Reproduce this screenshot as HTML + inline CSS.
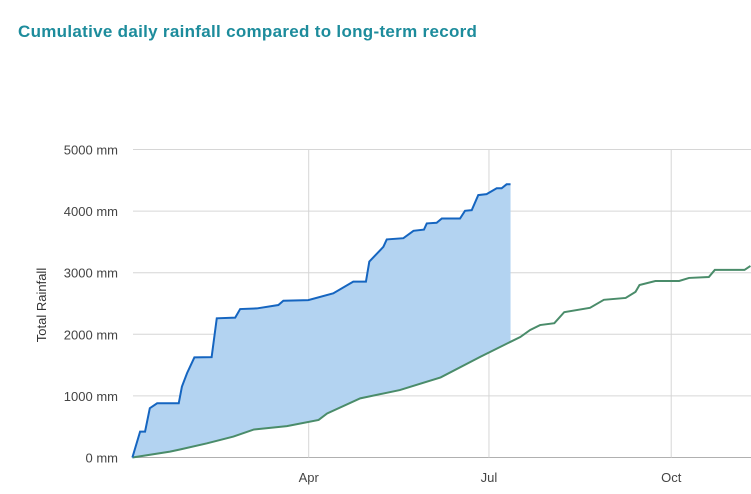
<!DOCTYPE html>
<html><head><meta charset="utf-8"><style>
body{margin:0;background:#fff;font-family:"Liberation Sans",sans-serif;}
#t{position:absolute;left:18px;top:22px;font-size:17px;font-weight:bold;color:#1d8c9c;letter-spacing:0.3px;}
</style></head><body>
<div id="t">Cumulative daily rainfall compared to long-term record</div>
<svg id="c" width="751" height="494" style="position:absolute;left:0;top:0"></svg>
<script>
const yTicks=[0,1000,2000,3000,4000,5000];
const monthLabels=["Apr","Jul","Oct"];
const monthDays=[90,181,273];
const blueDays=[1,4.9,7.4,9.8,13.5,24.4,26,28.6,32.3,41,43.6,52.9,55.4,63.8,74.7,77.2,89.8,102.4,112.5,118.9,120.6,127.7,129.4,137.8,142.9,148.2,149.6,154.6,157.2,166.4,168.9,172.3,175.6,179.8,184.9,187.4,189.9,191.9];
const blueVals=[0,420,420,800,880,880,1150,1370,1625,1630,2260,2270,2410,2420,2475,2545,2555,2665,2855,2855,3180,3420,3540,3560,3680,3700,3800,3810,3880,3880,4005,4015,4260,4275,4370,4370,4435,4435];
const greenDays=[1,20,25,38.7,52,62.4,79,95,99.3,116,136,156.6,176.7,192,196.8,201.8,206.8,214,219,232,239,250,255,257,265,277,282,292,295,310,313];
const greenVals=[0,95,130,230,340,455,510,610,715,960,1095,1300,1635,1880,1955,2070,2150,2180,2360,2430,2560,2590,2690,2800,2865,2865,2915,2930,3045,3045,3110];
const svg=document.getElementById('c');const NS='http://www.w3.org/2000/svg';
const X=d=>130.4+d*1.981, Y=v=>457.5-v*0.0616;
function mk(t,a,p){const e=document.createElementNS(NS,t);for(const k in a)e.setAttribute(k,a[k]);(p||svg).appendChild(e);return e;}
yTicks.forEach(v=>{
 const l=mk('line',{x1:133,x2:751,y1:Y(v),y2:Y(v),stroke:v?'#d6d6d6':'#b0b0b0','stroke-width':1});
 
 
 const t=mk('text',{x:118,y:Y(v)+5,'text-anchor':'end','font-size':13,fill:'#444','font-family':'Liberation Sans, sans-serif'});
 t.textContent=v+' mm';
 
 
});
monthDays.forEach((d,i)=>{
 const l=mk('line',{x1:X(d),x2:X(d),y1:149.5,y2:457.5,stroke:'#d6d6d6'});
 
 
 const t=mk('text',{x:X(d),y:482,'text-anchor':'middle','font-size':13,fill:'#444','font-family':'Liberation Sans, sans-serif'});
 t.textContent=monthLabels[i];
 
 
});
const yt=mk('text',{x:0,y:0,transform:'translate(46,305) rotate(-90)','text-anchor':'middle','font-size':13,fill:'#333','font-family':'Liberation Sans, sans-serif'});
yt.textContent='Total Rainfall';


function gAt(d){for(let i=1;i<greenDays.length;i++){if(greenDays[i]>=d){const f=(d-greenDays[i-1])/(greenDays[i]-greenDays[i-1]);return greenVals[i-1]+f*(greenVals[i]-greenVals[i-1]);}}return greenVals[greenVals.length-1];}
const lastB=blueDays[blueDays.length-1];
let pts=blueDays.map((d,i)=>X(d)+','+Y(blueVals[i]));
pts.push(X(lastB)+','+Y(gAt(lastB)));
for(let i=greenDays.length-1;i>=0;i--)if(greenDays[i]<lastB)pts.push(X(greenDays[i])+','+Y(greenVals[i]));
const area=mk('polygon',{points:pts.join(' '),fill:'#b3d3f1'});


const g=mk('polyline',{points:greenDays.map((d,i)=>X(d)+','+Y(greenVals[i])).join(' '),fill:'none',stroke:'#4a8c6a','stroke-width':2});


const b=mk('polyline',{points:blueDays.map((d,i)=>X(d)+','+Y(blueVals[i])).join(' '),fill:'none',stroke:'#1565c0','stroke-width':2});


</script>
</body></html>
